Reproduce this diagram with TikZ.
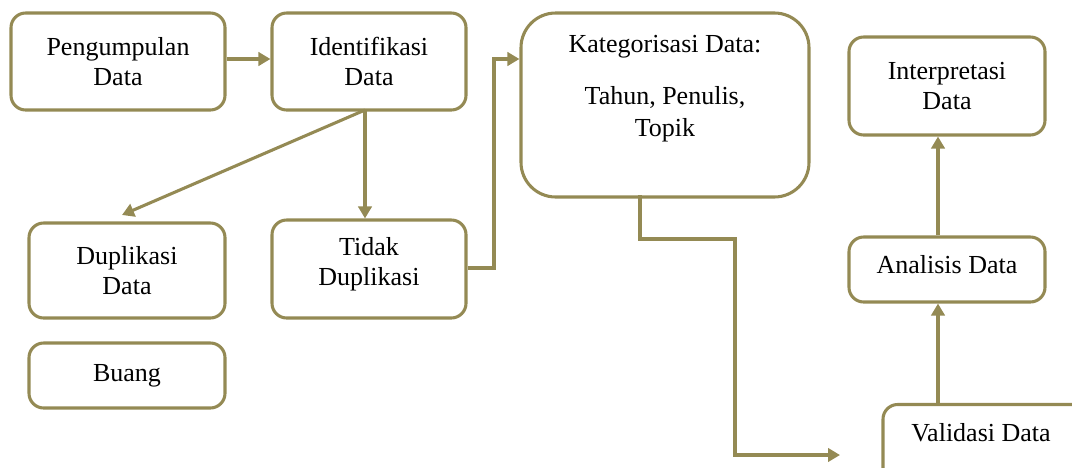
\documentclass[tikz,border=0pt]{standalone}
\usepackage{fontspec}
\setmainfont{Liberation Serif}
\usetikzlibrary{arrows.meta}
\definecolor{olive}{HTML}{948A54}
\tikzset{
  box/.style={draw=olive, line width=2.3pt, rounded corners=11pt, inner sep=0pt, align=center, font=\fontsize{19.5}{22.5}\selectfont},
  txt/.style={inner sep=0pt, align=center, font=\fontsize{19.5}{22.5}\selectfont},
  conn/.style={draw=olive, line width=2.3pt, -{Triangle[length=9pt,width=10pt]}},
  seg/.style={draw=olive, line width=2.3pt}
}
\begin{document}
\begin{tikzpicture}[x=0.75pt,y=-0.75pt]
\useasboundingbox (0,0) rectangle (1072,468);
\begin{scope}
\clip (0,0) rectangle (1072,468);
\node[box, minimum width=214*0.75pt, minimum height=97*0.75pt] (P) at (118,61.5) {Pengumpulan\\Data};
\node[box, minimum width=194*0.75pt, minimum height=97*0.75pt] (I) at (369,61.5) {Identifikasi\\Data};
\node[box, rounded corners=26pt, minimum width=288*0.75pt, minimum height=184*0.75pt] (K) at (665,105) {};
\node[txt, font=\fontsize{19.5}{24}\selectfont] (Kt) at (665,47) {Kategorisasi Data:};
\node[txt, font=\fontsize{19.5}{24}\selectfont] (Kb) at (665,114) {Tahun, Penulis,\\Topik};
\node[box, minimum width=196*0.75pt, minimum height=98*0.75pt] (Int) at (947,86) {Interpretasi\\Data};
\node[box, minimum width=196*0.75pt, minimum height=95*0.75pt] (D) at (127,270.5) {Duplikasi\\Data};
\node[box, minimum width=194*0.75pt, minimum height=98*0.75pt] (T) at (369,269) {};
\node[txt] (Tt) at (369,264) {Tidak\\Duplikasi};
\node[box, minimum width=196*0.75pt, minimum height=65*0.75pt] (B) at (127,375.5) {Buang};
\node[box, minimum width=196*0.75pt, minimum height=65*0.75pt] (A) at (947,269.5) {};
\node[txt] (At) at (947,265) {Analisis Data};
\node[box, minimum width=206*0.75pt, minimum height=85*0.75pt] (V) at (986,447) {};
\node[txt] (Vt) at (981,433) {Validasi Data};
\end{scope}
% connectors
\draw[conn] (P.east |- 0,59) -- (I.west |- 0,59);
\coordinate (Is) at (365,110);
\coordinate (Dn) at (122,215);
\draw[conn] (Is) -- (Dn);
\draw[conn] (Is) -- (T.north -| Is);
\coordinate (c1) at (494,268);
\coordinate (c2) at (494,59);
\draw[conn] (T.east |- c1) -- (c1) -- (c2) -- (K.west |- c2);
\coordinate (k0) at (640,195);
\coordinate (k1) at (640,239);
\coordinate (k2) at (735,239);
\coordinate (k3) at (735,455);
\coordinate (k4) at (840,455);
\draw[conn] (k0) -- (k1) -- (k2) -- (k3) -- (k4);
\coordinate (vx) at (938,0);
\draw[conn] (V.north -| vx) -- (A.south -| vx);
\draw[conn] (A.north -| vx) -- (Int.south -| vx);
\end{tikzpicture}
\end{document}
